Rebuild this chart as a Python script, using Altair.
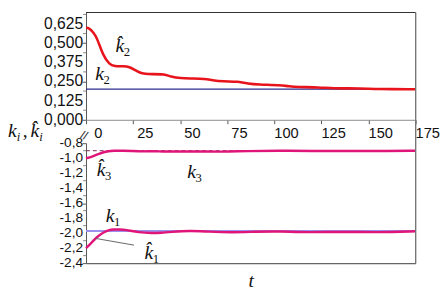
import altair as alt
import pandas as pd

# ---- data ----
t_k2hat = [0, 1.5, 4, 6, 9, 12.5, 15, 20, 23, 26, 28, 31.5, 35, 41.7, 45, 50, 57, 63, 67, 72.5, 81, 86, 91.4, 103, 108, 112, 124, 130.7, 146, 154.6, 175]
v_k2hat = [0.60, 0.60, 0.57, 0.53, 0.42, 0.36, 0.35, 0.35, 0.345, 0.325, 0.31, 0.298, 0.298, 0.298, 0.281, 0.271, 0.27, 0.267, 0.258, 0.25, 0.25, 0.236, 0.23, 0.226, 0.218, 0.214, 0.212, 0.205, 0.205, 0.2, 0.2]
k2_true = 0.2

t_k3hat = [0, 2, 4, 7, 9.2, 12, 14.4, 20, 24.6, 30, 35, 40, 50, 60, 72, 85, 103, 120, 140, 160, 175]
v_k3hat = [-1.0, -0.99, -0.97, -0.94, -0.92, -0.905, -0.9, -0.9, -0.905, -0.91, -0.907, -0.91, -0.912, -0.91, -0.915, -0.905, -0.9, -0.905, -0.902, -0.905, -0.9]
k3_true = -0.9

t_k1hat = [0, 2.4, 5.8, 9.2, 12, 14.4, 18, 21, 28, 35, 40, 45, 55, 65, 77.6, 90, 103, 117, 137.6, 154.6, 175]
v_k1hat = [-2.2, -2.14, -2.05, -1.99, -1.96, -1.95, -1.95, -1.955, -1.99, -2.0, -1.995, -1.985, -1.965, -1.98, -1.99, -1.98, -1.975, -1.99, -1.98, -1.99, -1.975]
k1_true = -1.97

t_range = [0, 175]

upper_major = [0.0, 0.125, 0.25, 0.375, 0.5, 0.625]
upper_labels = ["0,000", "0,125", "0,250", "0,375", "0,500", "0,625"]
upper_minor = [0.0625, 0.1875, 0.3125, 0.4375, 0.5625, 0.6875]
lower_major = [-0.8, -1.0, -1.2, -1.4, -1.6, -1.8, -2.0, -2.2, -2.4]
lower_labels = ["-0,8", "-1,0", "-1,2", "-1,4", "-1,6", "-1,8", "-2,0", "-2,2", "-2,4"]
lower_minor = [-0.9, -1.1, -1.3, -1.5, -1.7, -1.9, -2.1, -2.3]
x_ticks = [0, 12.5, 25, 37.5, 50, 62.5, 75, 87.5, 100, 112.5, 125, 137.5, 150, 162.5, 175]

W, H1, H2 = 338, 110, 123
SERIF = "Liberation Serif"
SANS = "Liberation Sans"

xscale = alt.Scale(domain=[0, 175], nice=False, zero=False)

df_k2 = pd.DataFrame({"t": t_k2hat, "v": v_k2hat})
df_k2t = pd.DataFrame({"t": t_range, "v": [k2_true] * 2})
df_k3 = pd.DataFrame({"t": t_k3hat, "v": v_k3hat})
df_k3t = pd.DataFrame({"t": t_range, "v": [k3_true] * 2})
df_k1 = pd.DataFrame({"t": t_k1hat, "v": v_k1hat})
df_k1t = pd.DataFrame({"t": t_range, "v": [k1_true] * 2})


def ylabels(values, labels, yscale, fs):
    return alt.Chart(pd.DataFrame({"v": values, "lab": labels})).mark_text(
        font=SANS, fontSize=fs, align="right", baseline="middle", color="#111").encode(
        y=alt.Y("v:Q", scale=yscale), x=alt.value(-3), text="lab:N")


def yminor(values, yscale):
    return alt.Chart(pd.DataFrame({"v": values})).mark_tick(
        color="#555", size=3, thickness=1).encode(y=alt.Y("v:Q", scale=yscale), x=alt.value(-1.5))


# ---------------- upper panel ----------------
yU = alt.Scale(domain=[0, 0.7], nice=False, zero=False)
x_up = alt.X("t:Q", scale=xscale, title=None,
             axis=alt.Axis(values=x_ticks, grid=False, tickSize=4, domainColor="#8a8a8a",
                           tickColor="#555", labelFont=SANS, labelFontSize=15, labelColor="#111",
                           labelOffset=12, labelPadding=2, labelFlush=False, labelOverlap=False,
                           labelExpr="datum.value % 25 == 0 ? format(datum.value, 'd') : ''"))
y_up = alt.Y("v:Q", scale=yU, title=None,
             axis=alt.Axis(values=upper_major, grid=False, tickSize=4, domainColor="#555",
                           tickColor="#555", labels=False))

k2t_line = alt.Chart(df_k2t).mark_line(color="#2b2b8f", strokeWidth=1.3).encode(x=x_up, y=y_up)
k2_line = alt.Chart(df_k2).mark_line(color="#e8141c", strokeWidth=2.6, interpolate="basis").encode(x=x_up, y=y_up)
top_rule = alt.Chart(df_k2t).mark_rule(color="#333", strokeWidth=1.2).encode(
    x=alt.value(0), x2=alt.value(W), y=alt.value(0))
right_rule_u = alt.Chart(df_k2t).mark_rule(color="#777", strokeWidth=1.2).encode(
    x=alt.value(W), y=alt.value(0), y2=alt.value(H1))

lab_up = pd.DataFrame({"t": [18, 7.2], "v": [0.44, 0.26], "txt": ["k\u0302", "k"]})
sub_up = pd.DataFrame({"t": [18, 7.2], "v": [0.44, 0.26], "txt": ["2", "2"]})
lab_u = alt.Chart(lab_up).mark_text(font=SERIF, fontStyle="italic", fontSize=20, align="center",
                                    baseline="alphabetic", color="#111").encode(
    x=alt.X("t:Q", scale=xscale), y=alt.Y("v:Q", scale=yU), text="txt:N")
sub_u = alt.Chart(sub_up).mark_text(font=SERIF, fontSize=13, align="left", baseline="alphabetic",
                                    dx=4, dy=4, color="#111").encode(
    x=alt.X("t:Q", scale=xscale), y=alt.Y("v:Q", scale=yU), text="txt:N")

upper = alt.layer(k2t_line, k2_line, top_rule, right_rule_u, yminor(upper_minor, yU),
                  ylabels(upper_major, upper_labels, yU, 16), lab_u, sub_u).properties(width=W, height=H1)

# ---------------- lower panel ----------------
yL = alt.Scale(domain=[-2.4, -0.8], nice=False, zero=False)
x_lo = alt.X("t:Q", scale=xscale,
             axis=alt.Axis(title="t", titleFont=SERIF, titleFontStyle="italic", titleFontWeight="normal",
                           titleFontSize=20, titleColor="#111", titlePadding=8, labels=False, ticks=False,
                           grid=False, domainColor="#666", domainWidth=1.2))
y_lo = alt.Y("v:Q", scale=yL, title=None,
             axis=alt.Axis(values=lower_major, grid=False, tickSize=4, domainColor="#555",
                           tickColor="#555", labels=False))

k3t_line = alt.Chart(df_k3t).mark_line(color="#7a2a55", strokeWidth=1, strokeDash=[4, 3]).encode(x=x_lo, y=y_lo)
k1t_line = alt.Chart(df_k1t).mark_line(color="#9a90ee", strokeWidth=2).encode(x=x_lo, y=y_lo)
k3_line = alt.Chart(df_k3).mark_line(color="#e0157a", strokeWidth=2.5, interpolate="basis").encode(x=x_lo, y=y_lo)
k1_line = alt.Chart(df_k1).mark_line(color="#e0157a", strokeWidth=2.5, interpolate="basis").encode(x=x_lo, y=y_lo)
right_rule_l = alt.Chart(df_k1t).mark_rule(color="#777", strokeWidth=1.2).encode(
    x=alt.value(W), y=alt.value(-24), y2=alt.value(H2))

leader = pd.DataFrame({"t": [5], "v": [-2.07], "t2": [25.5], "v2": [-2.16]})
leader_rule = alt.Chart(leader).mark_rule(color="#666", strokeWidth=1).encode(
    x=alt.X("t:Q", scale=xscale), y=alt.Y("v:Q", scale=yL), x2="t2:Q", y2="v2:Q")

lab_lo = pd.DataFrame({"t": [8, 56, 12.8, 33.4], "v": [-1.24, -1.26, -1.85, -2.34],
                       "txt": ["k\u0302", "k", "k", "k\u0302"], "sub": ["3", "3", "1", "1"]})
lab_l = alt.Chart(lab_lo).mark_text(font=SERIF, fontStyle="italic", fontSize=20, align="center",
                                    baseline="alphabetic", color="#111").encode(
    x=alt.X("t:Q", scale=xscale), y=alt.Y("v:Q", scale=yL), text="txt:N")
sub_l = alt.Chart(lab_lo).mark_text(font=SERIF, fontSize=13, align="left", baseline="alphabetic",
                                    dx=4, dy=4, color="#111").encode(
    x=alt.X("t:Q", scale=xscale), y=alt.Y("v:Q", scale=yL), text="sub:N")

# y-axis title pieces and axis break marks (annotations)
ttl = pd.DataFrame({"txt": ["k", ",", "k\u0302"], "sub": ["i", "", "i"]})
TY = -6
title_k1 = alt.Chart(ttl.iloc[[0]]).mark_text(font=SERIF, fontStyle="italic", fontSize=20, align="left",
                                              baseline="alphabetic", color="#111").encode(
    x=alt.value(-80), y=alt.value(TY), text="txt:N")
title_i1 = alt.Chart(ttl.iloc[[0]]).mark_text(font=SERIF, fontStyle="italic", fontSize=13, align="left",
                                              baseline="alphabetic", color="#111").encode(
    x=alt.value(-71), y=alt.value(TY + 4), text="sub:N")
title_c = alt.Chart(ttl.iloc[[1]]).mark_text(font=SERIF, fontSize=20, align="left",
                                             baseline="alphabetic", color="#111").encode(
    x=alt.value(-65), y=alt.value(TY), text="txt:N")
title_k2 = alt.Chart(ttl.iloc[[2]]).mark_text(font=SERIF, fontStyle="italic", fontSize=20, align="left",
                                              baseline="alphabetic", color="#111").encode(
    x=alt.value(-57), y=alt.value(TY), text="txt:N")
title_i2 = alt.Chart(ttl.iloc[[2]]).mark_text(font=SERIF, fontStyle="italic", fontSize=13, align="left",
                                              baseline="alphabetic", color="#111").encode(
    x=alt.value(-48), y=alt.value(TY + 4), text="sub:N")
brk = pd.DataFrame({"txt": ["//"]})
break_mark = alt.Chart(brk).mark_text(font=SANS, fontSize=12, align="center", baseline="middle",
                                      color="#333", angle=20).encode(
    x=alt.value(-2), y=alt.value(-8), text="txt:N")

lower = alt.layer(k3t_line, k1t_line, k3_line, k1_line, right_rule_l, yminor(lower_minor, yL),
                  ylabels(lower_major, lower_labels, yL, 14), leader_rule, lab_l, sub_l,
                  title_k1, title_i1, title_c, title_k2, title_i2, break_mark).properties(width=W, height=H2)

chart = alt.vconcat(upper, lower, spacing=24, bounds="flush").configure_view(stroke=None).properties(padding=0)

chart.save("out.html", embed_options={"renderer": "svg", "actions": False})
